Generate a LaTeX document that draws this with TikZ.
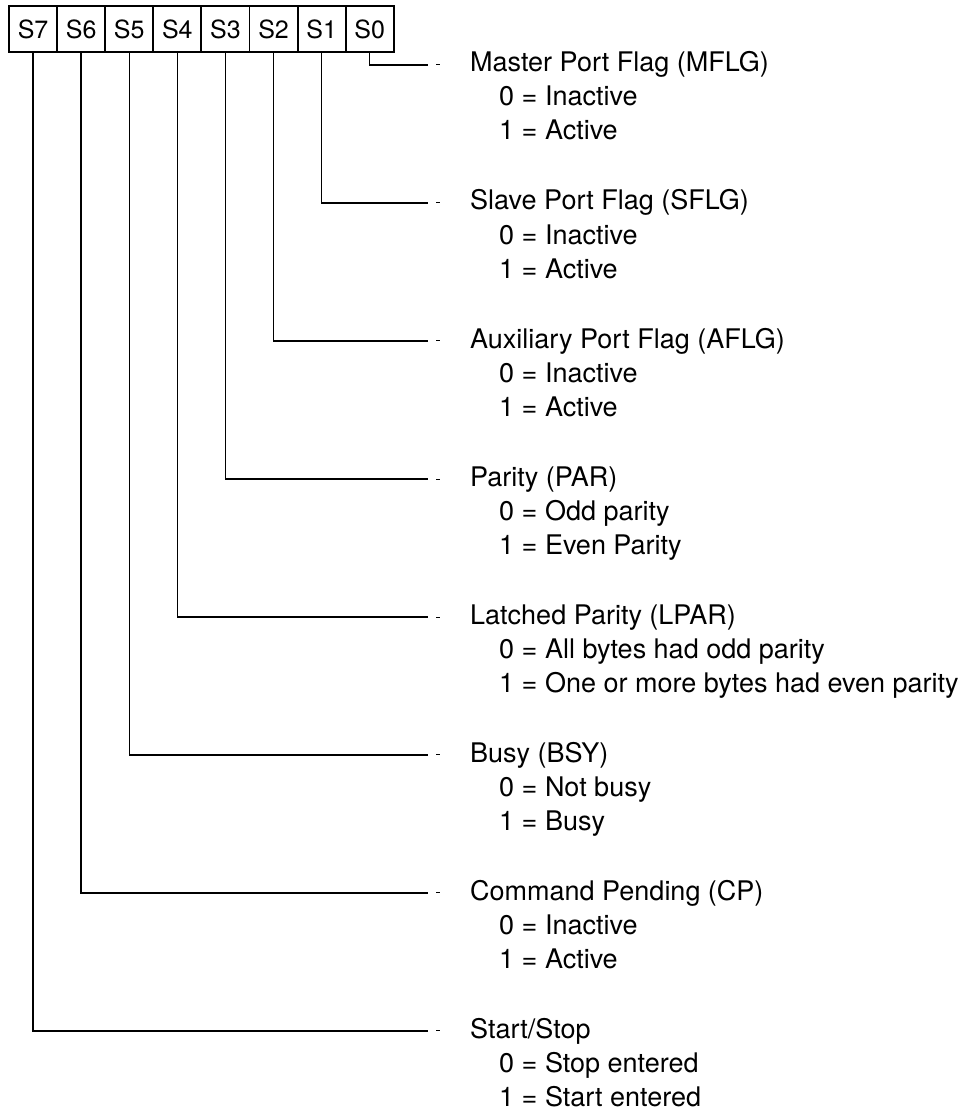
\documentclass[tikz,border=0pt]{standalone}
\usepackage{fontspec}
\setmainfont{TeX Gyre Heros}
\usetikzlibrary{positioning}
\tikzset{
  bitcell/.style={draw,line width=1.9pt,outer sep=0pt,inner sep=0pt,
    minimum width=48.1pt,minimum height=46pt,font=\fontsize{25}{28}\selectfont},
  fieldname/.style={anchor=base west,inner sep=0pt,font=\fontsize{27}{32}\selectfont},
  fieldval/.style={anchor=base west,inner sep=0pt,font=\fontsize{27}{32}\selectfont},
  lead/.style={line width=1.4pt},
  tick/.style={line width=1.1pt}
}

\begin{document}
\begin{tikzpicture}[x=1pt,y=-1pt]
  \useasboundingbox (0,0) rectangle (963,1115);
  % status byte
  \node[bitcell] (s7) at (33.05,29) {S7};
  \node[bitcell,right=0pt of s7] (s6) {S6};
  \node[bitcell,right=0pt of s6] (s5) {S5};
  \node[bitcell,right=0pt of s5] (s4) {S4};
  \node[bitcell,right=0pt of s4] (s3) {S3};
  \node[bitcell,right=0pt of s3] (s2) {S2};
  \node[bitcell,right=0pt of s2] (s1) {S1};
  \node[bitcell,right=0pt of s1] (s0) {S0};
  % field descriptions
  \node[fieldname] (t0) at (470,72) {Master Port Flag (MFLG)};
  \node[fieldval] (z0) at (499,106) {0 = Inactive};
  \node[fieldval] (o0) at (499,140) {1 = Active};
  \node[fieldname] (t1) at (470,210) {Slave Port Flag (SFLG)};
  \node[fieldval] (z1) at (499,244) {0 = Inactive};
  \node[fieldval] (o1) at (499,278) {1 = Active};
  \node[fieldname] (t2) at (470,348) {Auxiliary Port Flag (AFLG)};
  \node[fieldval] (z2) at (499,382) {0 = Inactive};
  \node[fieldval] (o2) at (499,416) {1 = Active};
  \node[fieldname] (t3) at (470,486) {Parity (PAR)};
  \node[fieldval] (z3) at (499,520) {0 = Odd parity};
  \node[fieldval] (o3) at (499,554) {1 = Even Parity};
  \node[fieldname] (t4) at (470,624) {Latched Parity (LPAR)};
  \node[fieldval] (z4) at (499,658) {0 = All bytes had odd parity};
  \node[fieldval] (o4) at (499,692) {1 = One or more bytes had even parity};
  \node[fieldname] (t5) at (470,762) {Busy (BSY)};
  \node[fieldval] (z5) at (499,796) {0 = Not busy};
  \node[fieldval] (o5) at (499,830) {1 = Busy};
  \node[fieldname] (t6) at (470,900) {Command Pending (CP)};
  \node[fieldval] (z6) at (499,934) {0 = Inactive};
  \node[fieldval] (o6) at (499,968) {1 = Active};
  \node[fieldname] (t7) at (470,1038) {Start/Stop};
  \node[fieldval] (z7) at (499,1072) {0 = Stop entered};
  \node[fieldval] (o7) at (499,1106) {1 = Start entered};
  % leaders
  \draw[lead] (s0.south) |- ([xshift=-42pt]t0.west);
  \draw[lead] (s1.south) |- ([xshift=-42pt]t1.west);
  \draw[lead] (s2.south) |- ([xshift=-42pt]t2.west);
  \draw[lead] (s3.south) |- ([xshift=-42pt]t3.west);
  \draw[lead] (s4.south) |- ([xshift=-42pt]t4.west);
  \draw[lead] (s5.south) |- ([xshift=-42pt]t5.west);
  \draw[lead] (s6.south) |- ([xshift=-42pt]t6.west);
  \draw[lead] (s7.south) |- ([xshift=-42pt]t7.west);
  \draw[tick] ([xshift=-34pt]t0.west) -- ([xshift=-30pt]t0.west);
  \draw[tick] ([xshift=-34pt]t1.west) -- ([xshift=-30pt]t1.west);
  \draw[tick] ([xshift=-34pt]t2.west) -- ([xshift=-30pt]t2.west);
  \draw[tick] ([xshift=-34pt]t3.west) -- ([xshift=-30pt]t3.west);
  \draw[tick] ([xshift=-34pt]t4.west) -- ([xshift=-30pt]t4.west);
  \draw[tick] ([xshift=-34pt]t5.west) -- ([xshift=-30pt]t5.west);
  \draw[tick] ([xshift=-34pt]t6.west) -- ([xshift=-30pt]t6.west);
  \draw[tick] ([xshift=-34pt]t7.west) -- ([xshift=-30pt]t7.west);
\end{tikzpicture}
\end{document}
